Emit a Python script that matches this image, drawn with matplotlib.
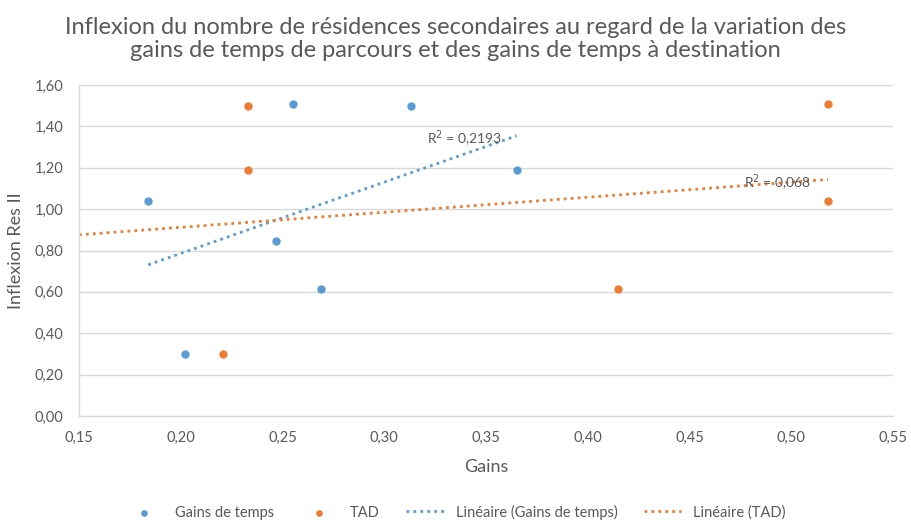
import matplotlib
matplotlib.use("Agg")
import matplotlib.pyplot as plt
import numpy as np
from matplotlib.ticker import FuncFormatter, MultipleLocator

plt.rcParams['font.family'] = ['Lato', 'DejaVu Sans']

# Data
gains_x = [0.184, 0.202, 0.247, 0.255, 0.269, 0.313, 0.365]
gains_y = [1.04, 0.30, 0.845, 1.51, 0.615, 1.50, 1.19]
tad_x = [0.221, 0.233, 0.233, 0.415, 0.518, 0.518]
tad_y = [0.30, 1.50, 1.19, 0.615, 1.51, 1.04]
r2_gains = "0,2193"
r2_tad = "0,068"

title = ("Inflexion du nombre de résidences secondaires au regard de la variation des\n"
         "gains de temps de parcours et des gains de temps à destination")

blue = "#5B9BD5"
orange = "#ED7D31"
grey = "#595959"

fig = plt.figure(figsize=(9.11, 5.29), dpi=100)
ax = fig.add_axes([79/911, 1-416/529, (893-79)/911, (416-85)/529])

# trendlines
bg = np.polyfit(gains_x, gains_y, 1)
xs_g = np.array([min(gains_x), max(gains_x)])
ax.plot(xs_g, np.polyval(bg, xs_g), linestyle=(0, (1, 1.5)), color=blue, lw=2,
        label="Linéaire (Gains de temps)", zorder=2)
bt = np.polyfit(tad_x, tad_y, 1)
xs_t = np.array([0.15, max(tad_x)])
ax.plot(xs_t, np.polyval(bt, xs_t), linestyle=(0, (1, 1.5)), color=orange, lw=2,
        label="Linéaire (TAD)", zorder=2)

ax.scatter(gains_x, gains_y, s=36, color=blue, label="Gains de temps", zorder=3, linewidths=0)
ax.scatter(tad_x, tad_y, s=36, color=orange, label="TAD", zorder=3, linewidths=0)

ax.text(0.321, 1.34, "R$^2$ = " + r2_gains, fontsize=10, color=grey, va='center', ha='left')
ax.text(0.477, 1.126, "R$^2$ = " + r2_tad, fontsize=10, color=grey, va='center', ha='left')

ax.set_xlim(0.15, 0.55)
ax.set_ylim(0, 1.6)
ax.xaxis.set_major_locator(MultipleLocator(0.05))
ax.yaxis.set_major_locator(MultipleLocator(0.2))
ax.xaxis.set_major_formatter(FuncFormatter(lambda v, p: f"{v:.2f}".replace('.', ',')))
ax.yaxis.set_major_formatter(FuncFormatter(lambda v, p: f"{v:.2f}".replace('.', ',')))
ax.tick_params(axis='both', length=0, labelsize=10.5, labelcolor=grey)
ax.tick_params(axis='x', pad=11)
ax.tick_params(axis='y', pad=11)
ax.grid(axis='y', color="#D9D9D9", lw=1)
ax.set_axisbelow(True)
for s in ['top', 'right']:
    ax.spines[s].set_visible(False)
for s in ['left', 'bottom']:
    ax.spines[s].set_color("#D9D9D9")
    ax.spines[s].set_linewidth(1)

ax.set_xlabel("Gains", fontsize=13, color=grey, labelpad=10)
ax.set_ylabel("Inflexion Res II", fontsize=13, color=grey, labelpad=8)

fig.text(0.5, 0.968, title, ha='center', va='top', fontsize=17, color=grey,
         linespacing=1.15)

h, l = ax.get_legend_handles_labels()
order = [2, 3, 0, 1]
fig.legend([h[i] for i in order], [l[i] for i in order], loc='center',
           bbox_to_anchor=(0.5, 1-512/529), ncol=4, frameon=False, fontsize=10.5,
           labelcolor=grey, handlelength=2.6, handletextpad=0.8, columnspacing=1.8,
           markerscale=0.8)

fig.savefig("out.png", dpi=100)
